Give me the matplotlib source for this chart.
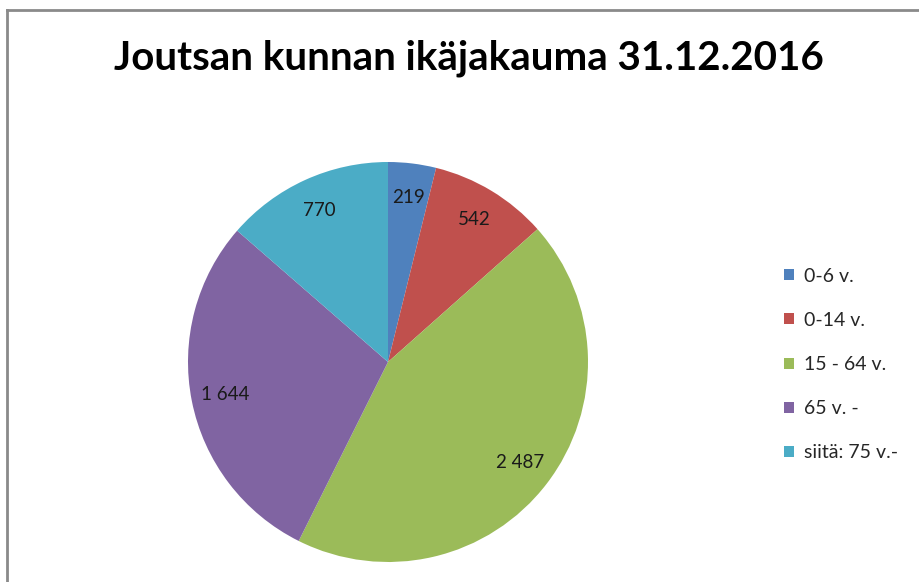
import matplotlib
matplotlib.use("Agg")
import matplotlib.pyplot as plt
from matplotlib.patches import Rectangle
from matplotlib.lines import Line2D

plt.rcParams['font.family'] = ['Lato', 'DejaVu Sans']

title = "Joutsan kunnan ikäjakauma 31.12.2016"
categories = ["0-6 v.", "0-14 v.", "15 - 64 v.", "65 v. -", "siitä: 75 v.-"]
values = [219, 542, 2487, 1644, 770]
colors = ["#4F81BD", "#C0504D", "#9BBB59", "#8064A2", "#4BACC6"]

W, H = 920, 582
fig = plt.figure(figsize=(W / 100, H / 100), dpi=100)

# frame border (top and left visible)
fig.add_artist(Line2D([7 / W, 7 / W], [0, 1 - 10 / H], transform=fig.transFigure,
                      color="#8a8a8a", lw=2))
fig.add_artist(Line2D([7 / W, 1], [1 - 10 / H, 1 - 10 / H], transform=fig.transFigure,
                      color="#8a8a8a", lw=2))

cx, cy, r = 388, 362, 200
ax = fig.add_axes([(cx - r) / W, (H - cy - r) / H, 2 * r / W, 2 * r / H])
total = sum(values)


def fmt(p):
    v = int(round(p * total / 100.0))
    return f"{v:,}".replace(",", " ")


wedges, texts, autotexts = ax.pie(values, colors=colors, startangle=90, counterclock=False,
                                  autopct=fmt, pctdistance=0.83, radius=1,
                                  wedgeprops=dict(linewidth=0),
                                  textprops=dict(fontsize=13.5, color="#1a1a1a"))
ax.set_xlim(-1, 1)
ax.set_ylim(-1, 1)
ax.set_aspect("equal")
ax.axis("off")

fig.text(469 / W, 1 - 58 / H, title, ha="center", va="center", fontsize=29,
         fontweight="bold", color="#000000")

handles = [Rectangle((0, 0), 1, 1, facecolor=c, edgecolor="none") for c in colors]
leg = fig.legend(handles, categories, loc="upper left",
                 bbox_to_anchor=(767 / W, 1 - 250 / H), frameon=False,
                 fontsize=14, handlelength=0.5, handleheight=0.5, handletextpad=0.5,
                 labelspacing=1.4, labelcolor="#262626")

fig.savefig("out.png", dpi=100)
